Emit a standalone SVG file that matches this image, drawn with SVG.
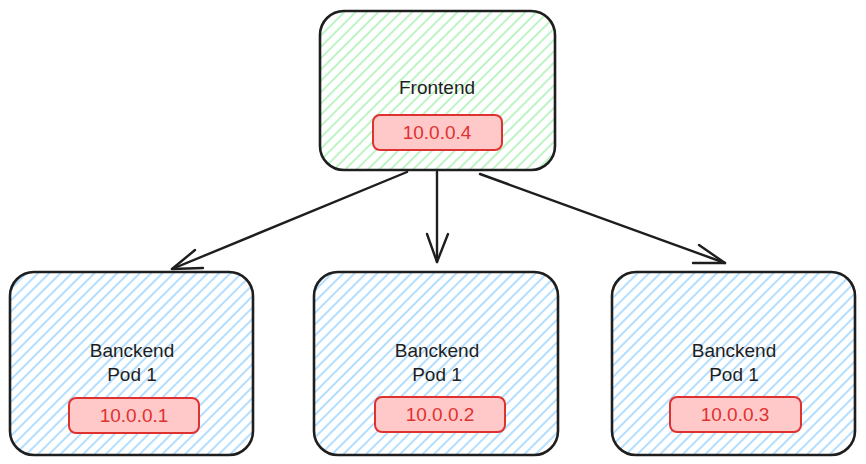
<svg xmlns="http://www.w3.org/2000/svg" width="866" height="464" viewBox="0 0 866 464">
  <defs>
    <pattern id="hatchGreen" patternUnits="userSpaceOnUse" width="8" height="8" patternTransform="rotate(45)">
      <line x1="4" y1="0" x2="4" y2="8" stroke="#b2f2bb" stroke-width="1.7"/>
    </pattern>
    <pattern id="hatchBlue" patternUnits="userSpaceOnUse" width="8" height="8" patternTransform="rotate(45)">
      <line x1="4" y1="0" x2="4" y2="8" stroke="#a5d8ff" stroke-width="1.7"/>
    </pattern>
  </defs>
  <style>
    .node { stroke: #1e1e1e; stroke-width: 2.6; }
    .front { fill: url(#hatchGreen); }
    .back { fill: url(#hatchBlue); }
    .ipbox { fill: #ffc9c9; stroke: #e03131; stroke-width: 2; }
    .label { font-family: "Liberation Sans", Arial, sans-serif; font-size: 19px; fill: #1e1e1e; text-anchor: middle; }
    .ip { font-family: "Liberation Sans", Arial, sans-serif; font-size: 19px; fill: #e03131; text-anchor: middle; }
    .conn { stroke: #1e1e1e; stroke-width: 2.4; fill: none; stroke-linecap: round; stroke-linejoin: round; }
  </style>
  <rect width="866" height="464" fill="#ffffff"/>

  <g id="frontend">
    <rect class="node front" x="320" y="11" width="235" height="159" rx="24"/>
    <text class="label" x="437" y="94">Frontend</text>
    <rect class="ipbox" x="373" y="115" width="129" height="35" rx="7"/>
    <text class="ip" x="437" y="139">10.0.0.4</text>
  </g>

  <g id="backend1">
    <rect class="node back" x="10" y="272" width="243" height="183" rx="24"/>
    <text class="label" x="132" y="357">Banckend</text>
    <text class="label" x="132" y="381">Pod 1</text>
    <rect class="ipbox" x="69" y="398" width="130" height="35" rx="7"/>
    <text class="ip" x="134" y="422">10.0.0.1</text>
  </g>

  <g id="backend2">
    <rect class="node back" x="314" y="272" width="244" height="183" rx="24"/>
    <text class="label" x="437" y="357">Banckend</text>
    <text class="label" x="437" y="381">Pod 1</text>
    <rect class="ipbox" x="375" y="397" width="130" height="35" rx="7"/>
    <text class="ip" x="440" y="421">10.0.0.2</text>
  </g>

  <g id="backend3">
    <rect class="node back" x="612" y="272" width="243" height="183" rx="24"/>
    <text class="label" x="734" y="357">Banckend</text>
    <text class="label" x="734" y="381">Pod 1</text>
    <rect class="ipbox" x="670" y="397" width="131" height="35" rx="7"/>
    <text class="ip" x="735" y="421">10.0.0.3</text>
  </g>

  <g id="connectors">
    <path class="conn" d="M407 172 L172 269"/>
    <path class="conn" d="M195 250 L172 269 L203 268"/>
    <path class="conn" d="M437 172 L437 262"/>
    <path class="conn" d="M427 234 L437 262 L448 234"/>
    <path class="conn" d="M480 174 L725 263"/>
    <path class="conn" d="M699 245 L725 263 L693 263"/>
  </g>
</svg>
